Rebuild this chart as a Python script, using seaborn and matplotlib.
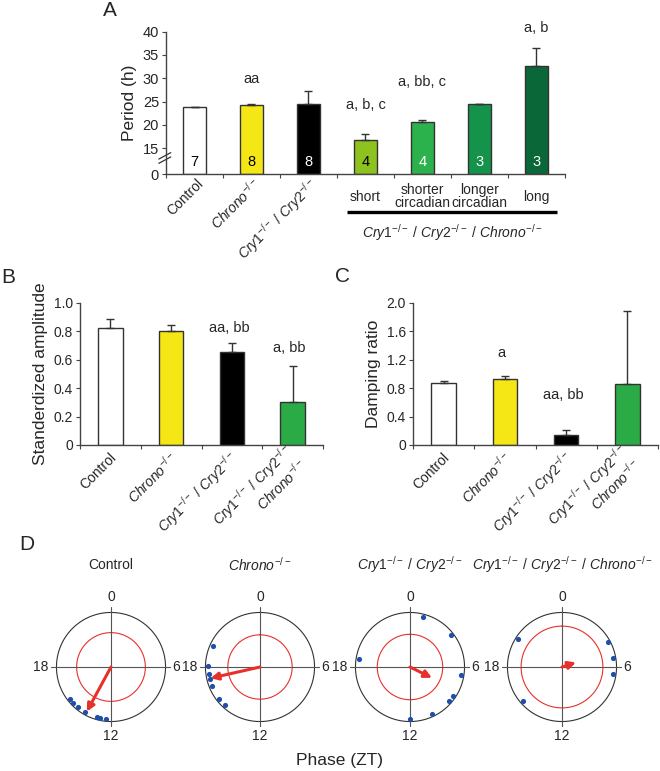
"""
Circadian phenotype figure: period, amplitude, damping and phase plots
"""

import numpy as np
import pandas as pd
import matplotlib
matplotlib.use('Agg')
import matplotlib.pyplot as plt
import seaborn as sns
from matplotlib.lines import Line2D

# ---- data -------------------------------------------------------------
# panel A: period (h)
a_keys = ['Control', 'Chrono', 'Cry1/Cry2', 'short', 'shorter', 'longer', 'long']
a_period = [23.8, 24.2, 24.4, 16.7, 20.6, 24.4, 32.6]
a_err = [0.1, 0.2, 2.9, 1.3, 0.5, 0.1, 3.8]
a_n = ['7', '8', '8', '4', '4', '3', '3']
a_sig = ['', 'aa', '', 'a, b, c', 'a, bb, c', '', 'a, b']
a_colors = ['#ffffff', '#f5e616', '#000000', '#8dc21f', '#2bb24c', '#16934a', '#0a6838']
a_n_colors = ['black', 'black', 'white', 'black', 'white', 'white', 'white']
a_groups = ['short', 'shorter\ncircadian', 'longer\ncircadian', 'long']

# panels B and C
bc_keys = ['Control', 'Chrono', 'Cry1/Cry2', 'Cry1/Cry2/Chrono']
bc_colors = ['#ffffff', '#f5e616', '#000000', '#2bab45']
b_amp = [0.827, 0.80, 0.655, 0.302]
b_err = [0.06, 0.043, 0.061, 0.256]
b_sig = ['', '', 'aa, bb', 'a, bb']
c_damp = [0.873, 0.925, 0.14, 0.855]
c_err = [0.027, 0.042, 0.067, 1.035]
c_sig = ['', 'a', 'aa, bb', '']

# panel D: phases (ZT), mean vector and significance circle
d_titles = ['Control', r'$\mathit{Chrono}^{-/-}$',
            r'$\mathit{Cry1}^{-/-}$ / $\mathit{Cry2}^{-/-}$',
            r'$\mathit{Cry1}^{-/-}$ / $\mathit{Cry2}^{-/-}$ / $\mathit{Chrono}^{-/-}$']
d_phases = [
    [15.5, 15.1, 14.6, 14.0, 13.05, 12.85, 12.4],
    [19.6, 18.05, 17.45, 17.1, 16.6, 15.45, 14.85],
    [0.95, 3.5, 18.6, 6.6, 8.3, 8.7, 10.3, 12.0],
    [20.15, 4.1, 5.35, 6.5, 15.3],
]
d_mean_phase = [13.9, 17.15, 7.75, 4.8]
d_mean_len = [0.93, 0.93, 0.45, 0.27]
d_crit_r = [0.63, 0.59, 0.60, 0.75]

# ---- style ------------------------------------------------------------
sns.set_theme(style='ticks')
plt.rcParams['font.family'] = ['Liberation Sans', 'DejaVu Sans']
plt.rcParams['mathtext.fontset'] = 'custom'
plt.rcParams['mathtext.rm'] = 'Liberation Sans'
plt.rcParams['mathtext.it'] = 'Liberation Sans:italic'
plt.rcParams['mathtext.bf'] = 'Liberation Sans:bold'

W, H = 660, 771
fig = plt.figure(figsize=(W / 100, H / 100), dpi=100)

CHRONO = r'$\mathit{Chrono}^{-/-}$'
CRY12 = r'$\mathit{Cry1}^{-/-}$ / $\mathit{Cry2}^{-/-}$'
EDGE = '#333333'


def px_axes(left, top, right, bottom, **kw):
    return fig.add_axes([left / W, 1 - bottom / H, (right - left) / W, (bottom - top) / H], **kw)


def style_axis(ax, n):
    sns.despine(ax=ax)
    for s in ['left', 'bottom']:
        ax.spines[s].set_color('#444444')
        ax.spines[s].set_linewidth(1)
    ax.set_xlim(-0.5, n - 0.5)
    ax.set_xticks(np.arange(-0.5, n, 1))
    ax.set_xticklabels([])
    ax.tick_params(axis='both', direction='out', length=3, width=0.8,
                   color='#444444', pad=2)
    ax.set_xlabel('')


def bars(ax, keys, vals, errs, colors):
    df = pd.DataFrame({'group': keys, 'value': vals})
    sns.barplot(data=df, x='group', y='value', hue='group', palette=colors,
                legend=False, width=0.4, edgecolor=EDGE, linewidth=1,
                saturation=1, errorbar=None, ax=ax)
    ax.errorbar(np.arange(len(vals)), vals, yerr=[np.zeros(len(errs)), errs],
                fmt='none', ecolor='#333333', elinewidth=1, capsize=3, capthick=1)


# ---- panel A ----------------------------------------------------------
axA = px_axes(166, 31.7, 565, 174)
bars(axA, a_keys, a_period, a_err, a_colors)
K = 5.58


def fwd(v):
    v = np.asarray(v, dtype=float)
    return np.where(v < 15, v * K / 15, v - 15 + K)


def inv(d):
    d = np.asarray(d, dtype=float)
    return np.where(d < K, d * 15 / K, d + 15 - K)


axA.set_yscale('function', functions=(fwd, inv))
axA.set_ylim(0, 40)
axA.set_yticks([0, 15, 20, 25, 30, 35, 40])
axA.set_yticklabels(['0', '15', '20', '25', '30', '35', '40'])
style_axis(axA, 7)
axA.tick_params(axis='y', labelsize=10.5)
axA.set_ylabel('Period (h)', fontsize=12.5, labelpad=4)

# axis break marks
for dy in [0, 0.03]:
    axA.add_line(Line2D([-0.018, 0.012], [0.075 + dy, 0.12 + dy], transform=axA.transAxes,
                        color='#333333', lw=0.9, clip_on=False))

xt = axA.get_xaxis_transform()
for i, (n, col) in enumerate(zip(a_n, a_n_colors)):
    axA.text(i, 0.084, n, color=col, ha='center', va='center', fontsize=10.5, transform=xt)
sig_y = [0, 29.8, 0, 24.3, 29.2, 0, 40.8]
for i, s in enumerate(a_sig):
    if s:
        axA.text(i, sig_y[i], s, ha='center', va='center', fontsize=10.5, clip_on=False)

for i, lab in enumerate(['Control', CHRONO, CRY12]):
    axA.text(i + 0.12, -0.055, lab, rotation=45, rotation_mode='anchor',
             ha='right', va='center', fontsize=10, transform=xt)
for i, lab in enumerate(a_groups):
    axA.text(3 + i, -0.16, lab, ha='center', va='center', fontsize=10,
             linespacing=0.95, transform=xt)
axA.add_line(Line2D([2.68, 6.36], [-0.267, -0.267], transform=xt, color='black',
                    lw=2.4, clip_on=False, solid_capstyle='butt'))
axA.text(4.52, -0.41, r'$\mathit{Cry1}^{-/-}$ / $\mathit{Cry2}^{-/-}$ / $\mathit{Chrono}^{-/-}$',
         ha='center', va='center', fontsize=10, transform=xt)

# ---- panels B and C ----------------------------------------------------
bc_labels = ['Control', CHRONO, CRY12, CRY12 + '\n' + CHRONO]


def bc_panel(ax, vals, errs, sig, sig_y, ymax, ticks, ticklabels, ylabel):
    bars(ax, bc_keys, vals, errs, bc_colors)
    ax.set_ylim(0, ymax)
    ax.set_yticks(ticks)
    ax.set_yticklabels(ticklabels)
    style_axis(ax, 4)
    ax.tick_params(axis='y', labelsize=10)
    ax.set_ylabel(ylabel, fontsize=12.5, labelpad=4)
    t = ax.get_xaxis_transform()
    for i, lab in enumerate(bc_labels):
        ax.text(i + 0.06, -0.07, lab, rotation=45, rotation_mode='anchor',
                ha='right', va='center', multialignment='right', fontsize=10,
                linespacing=1.0, transform=t)
    for i, s in enumerate(sig):
        if s:
            ax.text(i - 0.05, sig_y[i], s, ha='center', va='center', fontsize=10.5)


axB = px_axes(80, 303, 323, 445)
bc_panel(axB, b_amp, b_err, b_sig, [0, 0, 0.827, 0.686], 1.0,
         [0, 0.2, 0.4, 0.6, 0.8, 1.0], ['0', '0.2', '0.4', '0.6', '0.8', '1.0'],
         'Standerdized amplitude')

axC = px_axes(413, 303, 658, 445)
bc_panel(axC, c_damp, c_err, c_sig, [0, 1.30, 0.70, 0], 2.0,
         [0, 0.4, 0.8, 1.2, 1.6, 2.0], ['0', '0.4', '0.8', '1.2', '1.6', '2.0'],
         'Damping ratio')

# ---- panel D ----------------------------------------------------------
centers = [111, 260, 410, 562]
cy = 667
circle_t = np.linspace(0, 2 * np.pi, 361)
for k, cx in enumerate(centers):
    pax = px_axes(cx - 60, cy - 60, cx + 60, cy + 60, projection='polar')
    pax.set_theta_zero_location('N')
    pax.set_theta_direction(-1)
    pax.set_axis_off()
    pax.plot(circle_t, np.ones_like(circle_t), color='#333333', lw=0.8)
    pax.plot(circle_t, np.full_like(circle_t, d_crit_r[k]), color='#e8302a', lw=0.8)
    for zt in [0, 6]:
        th = zt / 24 * 2 * np.pi
        pax.plot([th, th], [0, 1.1], color='#555555', lw=0.8)
        pax.plot([th + np.pi, th + np.pi], [0, 1.1], color='#555555', lw=0.8)
    for zt, lab, r in [(0, '0', 1.28), (6, '6', 1.2), (12, '12', 1.27), (18, '18', 1.28)]:
        pax.text(zt / 24 * 2 * np.pi, r, lab, ha='center', va='center', fontsize=10,
                 clip_on=False)
    theta = np.array(d_phases[k]) / 24 * 2 * np.pi
    sns.scatterplot(x=theta, y=np.full(len(theta), 0.95), color='#1f4fa8', s=14,
                    linewidth=0, ax=pax, zorder=4)
    mth = d_mean_phase[k] / 24 * 2 * np.pi
    pax.annotate('', xy=(mth, d_mean_len[k]), xytext=(0, 0),
                 arrowprops=dict(arrowstyle='-|>', color='#e8302a', lw=2.2,
                                 mutation_scale=11, shrinkA=0, shrinkB=0), zorder=5)
    pax.set_ylim(0, 1.1)
    pax.set_xlabel('')
    pax.set_ylabel('')
    fig.text(cx / W, 1 - 565 / H, d_titles[k], ha='center', va='center', fontsize=10)

fig.text(340 / W, 1 - 760 / H, 'Phase (ZT)', ha='center', va='center', fontsize=12.5)

# panel letters
for lab, x, y in [('A', 110, 11), ('B', 8, 277), ('C', 342, 276), ('D', 27, 545)]:
    fig.text(x / W, 1 - y / H, lab, ha='center', va='center', fontsize=15)

fig.savefig('out.png', dpi=100)
print("saved out.png")
